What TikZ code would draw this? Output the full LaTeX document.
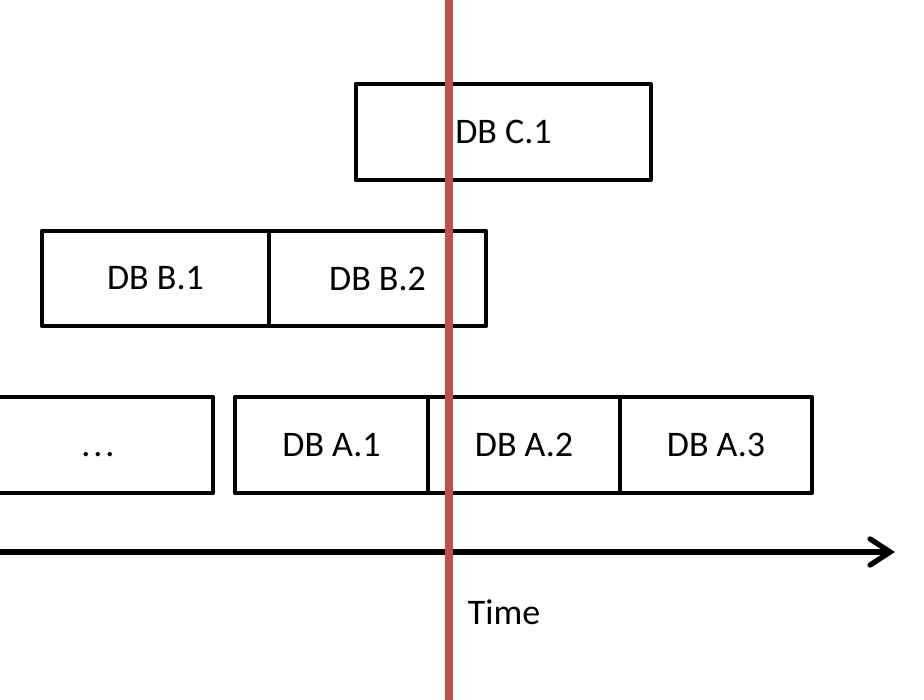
\documentclass[tikz,border=0pt]{standalone}
\usepackage{fontspec}
\setmainfont{Carlito}
\usetikzlibrary{arrows.meta}
\definecolor{nowred}{HTML}{C0504D}
\begin{document}
\begin{tikzpicture}[x=1pt,y=-1pt,
  box/.style={draw=black, line width=4.4pt, rectangle, inner sep=0pt, outer sep=0pt,
    font=\fontsize{36}{43}\selectfont, line join=round},
  lbl/.style={font=\fontsize{36}{43}\selectfont, inner sep=0pt}]
\useasboundingbox (0,0) rectangle (924,700);
% row A
\node[box, minimum width=230pt, minimum height=96pt] (dots) at (98,445) {\vphantom{DB}.\hspace{3pt}.\hspace{3pt}.};
\node[box, minimum width=193pt, minimum height=96pt] (a1) at (331.5,445) {DB A.1};
\node[box, minimum width=192pt, minimum height=96pt] (a2) at (524,445) {DB A.2};
\node[box, minimum width=192pt, minimum height=96pt] (a3) at (716,445) {DB A.3};
% row B
\node[box, minimum width=227pt, minimum height=95pt] (b1) at (155.5,278.5) {DB B.1};
\node[box, minimum width=217pt, minimum height=95pt] (b2) at (377.5,278.5) {DB B.2};
% row C
\node[box, minimum width=295pt, minimum height=96pt] (c1) at (503.5,132) {DB C.1};
% time axis
\coordinate (axs) at (-10,552);
\coordinate (axe) at (895,552);
\draw[line width=5.3pt, -{Straight Barb[length=20pt,width=26pt,line cap=round]}] (axs) -- (axe);
\node[lbl] (time) at (504,612) {Time};
% current time marker
\coordinate (nowt) at (449,-5);
\coordinate (nowb) at (449,705);
\draw[nowred, line width=7.5pt] (nowt) -- (nowb);
\end{tikzpicture}
\end{document}
